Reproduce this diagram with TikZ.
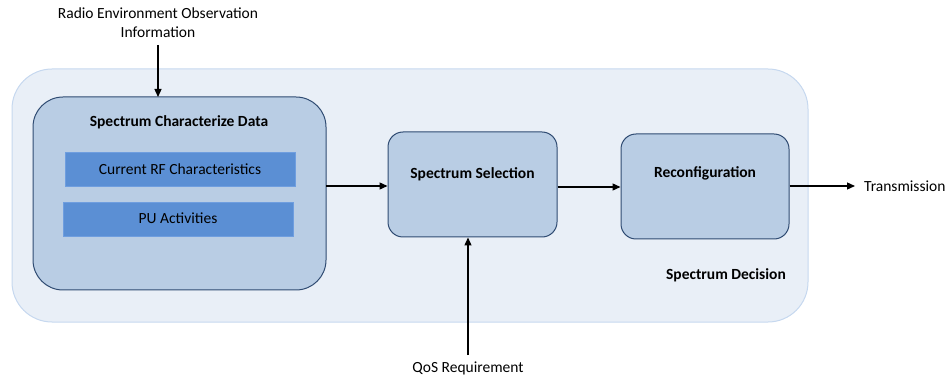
\documentclass[tikz,border=0pt]{standalone}
\usepackage{fontspec}
\setmainfont{Carlito}
\usetikzlibrary{arrows.meta}
\definecolor{outerfill}{HTML}{E9EFF7}
\definecolor{outerline}{HTML}{C6D8EF}
\definecolor{blockfill}{HTML}{B9CDE4}
\definecolor{blockline}{HTML}{2F4B72}
\definecolor{itemfill}{HTML}{5B8FD4}
\definecolor{itemline}{HTML}{6F9EDF}
\tikzset{
  txt/.style={font=\fontsize{15.5}{19}\selectfont, text=black, align=center},
  bold/.style={font=\fontsize{15.5}{19}\selectfont\bfseries},
  outerbox/.style={draw=outerline, fill=outerfill, line width=1pt, rounded corners=40pt},
  blockbox/.style={draw=blockline, fill=blockfill, line width=1pt},
  itembox/.style={draw=itemline, fill=itemfill, line width=1pt},
  flow/.style={-{Triangle[length=8pt,width=7pt]}, line width=1.3pt, black},
}
\begin{document}
\begin{tikzpicture}[x=1pt,y=-1pt]
\useasboundingbox (0,0) rectangle (950,379);
% enclosing decision stage
\draw[outerbox] (12,69) rectangle (808,322);
\node[txt, bold] (decision) at (726,275) {Spectrum Decision};
% characterization block with its two items
\draw[blockbox, rounded corners=30pt] (33,97) rectangle (326,290);
\coordinate (chtop) at (158,97);
\coordinate (chright) at (326,186);
\node[txt, bold] (chtitle) at (179,122) {Spectrum Characterize Data};
\node[itembox, minimum width=230pt, minimum height=34pt, inner sep=0pt] (rf) at (180,170) {};
\node[txt] (rftext) at (180,169) {Current RF Characteristics};
\node[itembox, minimum width=230pt, minimum height=34pt, inner sep=0pt] (pu) at (178,220) {};
\node[txt] (putext) at (178,218) {PU Activities};
% selection and reconfiguration blocks
\node[blockbox, rounded corners=15pt, minimum width=169pt, minimum height=105pt, inner sep=0pt] (sel) at (472.5,184.5) {};
\node[txt, bold] (seltext) at (472.5,174) {Spectrum Selection};
\node[blockbox, rounded corners=15pt, minimum width=168pt, minimum height=105pt, inner sep=0pt] (rec) at (705,186.5) {};
\node[txt, bold] (rectext) at (705,173) {Reconfiguration};
% external inputs and output
\node[txt] (obs) at (158,23) {Radio Environment Observation\\Information};
\node[txt] (qos) at (468,368) {QoS Requirement};
\node[txt, anchor=west, inner sep=0pt] (tx) at (864,186) {Transmission};
\coordinate (obsend) at (158,45);
\coordinate (qosend) at (468,355);
\coordinate (txend) at (855,186);
\draw[flow] (obsend) -- (chtop);
\draw[flow] (chright) -- (sel.west |- chright);
\draw[flow] (sel.east |- 0,187) -- (rec.west |- 0,187);
\draw[flow] (rec.east |- 0,186) -- (txend);
\draw[flow] (qosend) -- (sel.south -| qosend);
\end{tikzpicture}
\end{document}
